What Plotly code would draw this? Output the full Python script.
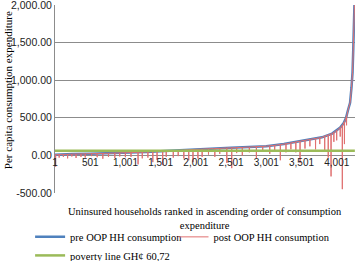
import plotly.graph_objects as go

# Pre-OOP per capita consumption (ranked), read at selected ranks
pre_rank = [1, 100, 250, 500, 750, 1000, 1300, 1630, 2000, 2250, 2500, 2750, 3000,
            3250, 3450, 3600, 3790, 3935, 3980, 4050, 4100, 4133, 4160, 4190, 4210,
            4225, 4235, 4245, 4252]
pre_value = [8, 14, 18, 22, 28, 35, 45, 60, 80, 90, 100, 110, 122,
             150, 185, 210, 240, 290, 320, 370, 430, 500, 600, 700, 900,
             1100, 1400, 1750, 2000]

# Post-OOP consumption dips: rank, line level, dip bottom
spike_rank = [10, 60, 120, 180, 240, 300, 370, 430, 520, 600, 680, 760, 850, 920, 1000,
              1080, 1180, 1240, 1320, 1390, 1450, 1530, 1580, 1680, 1750, 1830, 1900,
              1960, 2030, 2090, 2180, 2270, 2340, 2440, 2510, 2580, 2660, 2760, 2860,
              2950, 3050, 3120, 3200, 3280, 3350, 3420, 3480, 3550, 3620, 3700, 3760,
              3830, 3880, 3920, 3960, 4000, 4050, 4080, 4110, 4140]
spike_top = [8, 10, 12, 14, 17, 18, 19, 20, 22, 24, 26, 28, 31, 33, 35,
             37, 41, 43, 46, 50, 53, 56, 58, 62, 66, 70, 74,
             78, 80, 83, 87, 90, 93, 98, 100, 103, 106, 110, 116,
             120, 127, 134, 144, 154, 165, 178, 188, 200, 212, 225, 234,
             255, 272, 285, 305, 330, 370, 400, 445, 520]
spike_bottom = [-150, -30, -20, -40, -15, -35, -20, -30, -10, -25, -45, -20, -35, -15, -25,
                -20, -120, -40, -30, -90, -60, -130, -20, -30, -10, -40, -65,
                -90, -40, -20, 10, -20, 20, -100, -170, 30, 0, 40, -40,
                60, 20, 60, -65, 40, 80, 40, -100, 90, 120, 80, 150,
                50, -30, -280, 180, 200, 250, -450, 150, 400]

poverty_line = 60.72
n_households = 4258

x_ticks = [1, 501, 1001, 1501, 2001, 2501, 3001, 3501, 4001]
x_ticktext = ["1", "501", "1,001", "1,501", "2,001", "2,501", "3,001", "3,501", "4,001"]
y_ticks = [-500, 0, 500, 1000, 1500, 2000]
y_ticktext = ["-500.00", "0.00", "500.00", "1,000.00", "1,500.00", "2,000.00"]

# build post series: follows the pre curve with dips
pts = list(zip(pre_rank, pre_value))
for r, t, b in zip(spike_rank, spike_top, spike_bottom):
    pts += [(r - 2, t), (r, b), (r + 2, t)]
pts.sort(key=lambda p: p[0])
post_x = [p[0] for p in pts]
post_y = [p[1] for p in pts]

serif = "Liberation Serif"
sans = "Liberation Sans"

fig = go.Figure()
fig.add_trace(go.Scatter(x=pre_rank, y=pre_value, mode="lines",
                         name="pre OOP HH consumption", legend="legend",
                         line=dict(color="#4F81BD", width=2.5)))
fig.add_trace(go.Scatter(x=post_x, y=post_y, mode="lines",
                         name="post OOP HH consumption", legend="legend2",
                         line=dict(color="#E07070", width=1)))
fig.add_trace(go.Scatter(x=[1, n_households], y=[poverty_line, poverty_line], mode="lines",
                         name="poverty line GH\u00a2 60,72", legend="legend3",
                         line=dict(color="#9BBB59", width=2.5)))

legend_font = dict(family=serif, size=10.5, color="#000")
common = dict(orientation="v", xanchor="left", yanchor="top", yref="container",
              font=legend_font, bgcolor="rgba(0,0,0,0)")
fig.update_layout(
    width=357, height=261,
    margin=dict(l=55, r=2, t=5, b=68, autoexpand=False),
    plot_bgcolor="white", paper_bgcolor="white",
    showlegend=True,
    legend=dict(x=-0.083, y=0.148, **common),
    legend2=dict(x=0.395, y=0.148, **common),
    legend3=dict(x=-0.083, y=0.077, **common),
    xaxis=dict(range=[1, 4260], tickvals=x_ticks, ticktext=x_ticktext,
               showgrid=False, zeroline=False, showline=False,
               anchor="free", position=0.2, ticks="",
               tickfont=dict(family=sans, size=10, color="#222")),
    yaxis=dict(range=[-501, 2001], tickvals=y_ticks, ticktext=y_ticktext,
               showgrid=True, gridcolor="#8C8C8C", gridwidth=1,
               zeroline=True, zerolinecolor="#8C8C8C", zerolinewidth=1,
               showline=True, linecolor="#8C8C8C", linewidth=1, ticks="",
               ticklabeloverflow="allow",
               tickfont=dict(family=sans, size=10.5, color="#222")),
    annotations=[
        dict(text="Uninsured households ranked in ascending order of consumption<br>expenditure",
             xref="paper", yref="paper", x=0.5, y=-0.06, xanchor="center", yanchor="top",
             showarrow=False, font=dict(family=serif, size=10.5, color="#000")),
        dict(text="Per capita consumption expenditure", textangle=-90,
             xref="paper", yref="paper", x=-0.158, y=0.545, xanchor="center", yanchor="middle",
             showarrow=False, font=dict(family=serif, size=11, color="#000")),
    ],
)

fig.write_html("out.html", config={"displayModeBar": False},
               post_script="document.body.style.margin='0px';")
